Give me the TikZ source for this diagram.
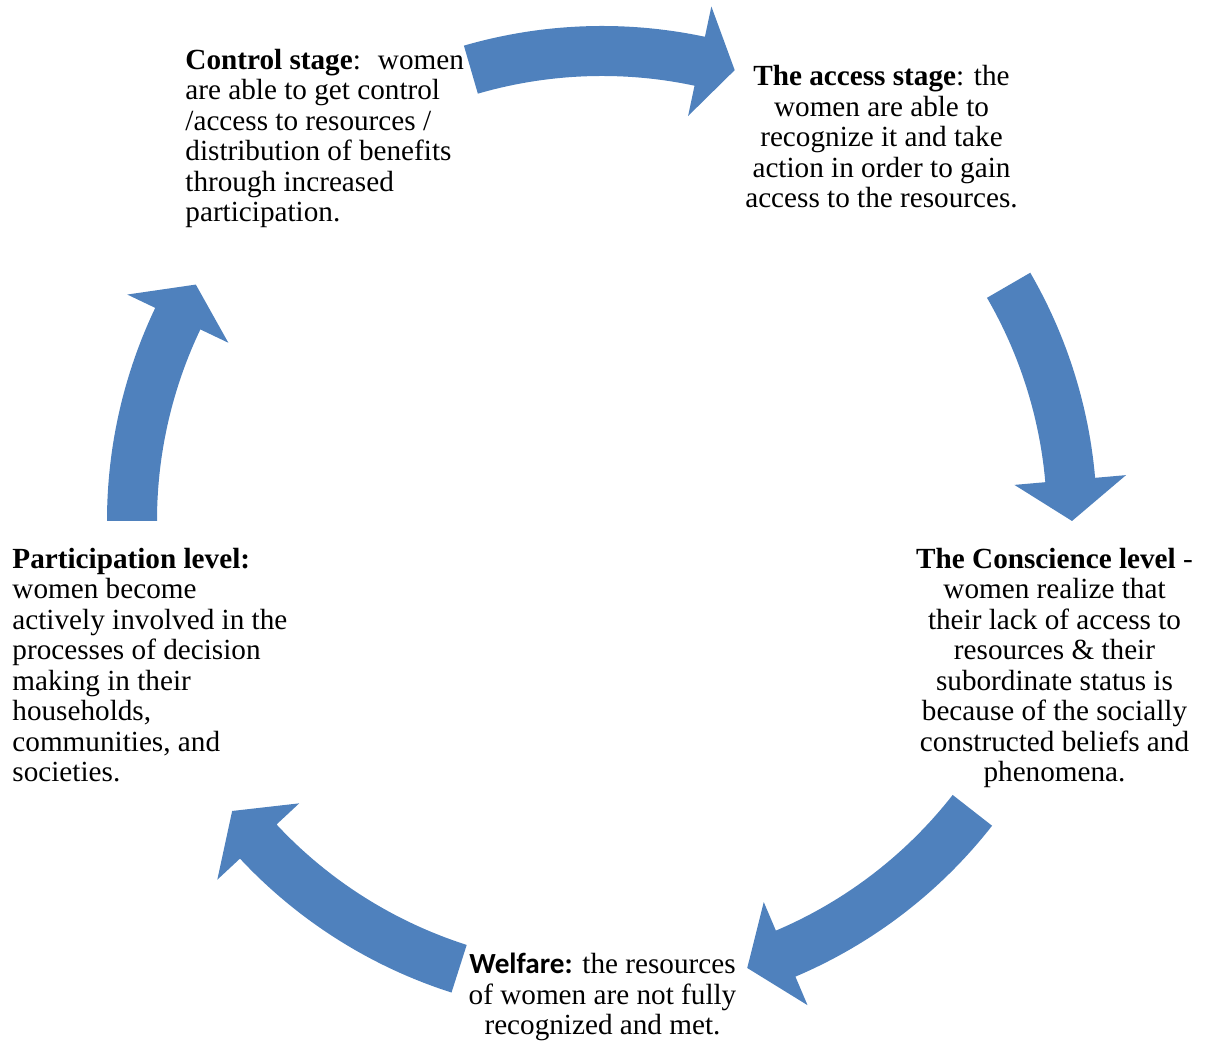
\documentclass[tikz,border=0pt]{standalone}
\usepackage{fontspec}
\setmainfont{Liberation Serif}
\newfontfamily\calibrifont{Carlito}
\usetikzlibrary{calc}

\definecolor{arrowblue}{HTML}{4F81BD}

\tikzset{
  stagetext/.style={inner sep=0pt, font=\fontsize{13.3}{13.9}\selectfont},
  arrowfill/.style={fill=arrowblue},
}

% curved block arrow on the cycle: start angle, head base angle, tip angle
\newcommand{\cyclearrow}[3]{%
  \fill[arrowfill] (#1:495) arc[start angle=#1, end angle=#2, radius=495]
    -- (#2:526) -- (#3:470) -- (#2:414) -- (#2:445)
    arc[start angle=#2, end angle=#1, radius=445] -- cycle;}

\begin{document}
\begin{tikzpicture}[x=0.016cm,y=0.016cm]
	\useasboundingbox (0,0) rectangle (1212,1041);

	% centre of the cycle
	\coordinate (O) at (602,520);

	% arrows
	\begin{scope}[shift={(O)}]
		\cyclearrow{106.2}{78}{73.6}
		\cyclearrow{30.1}{5}{0}
		\cyclearrow{-38}{-67}{-72}
		\cyclearrow{252.3}{223}{218.1}
		\cyclearrow{180}{154.5}{149.8}
	\end{scope}

	% stages texts (base = last line)
	\node[stagetext,anchor=base west,align=left] (control) at (185,819)
		{\textbf{Control stage}:~ women\\are able to get control\\/access to resources /\\distribution of benefits\\through increased\\participation.};
	\node[stagetext,anchor=base,align=center] (access) at (881.5,833)
		{\textbf{The access stage}: the\\women are able to\\recognize it and take\\action in order to gain\\access to the resources.};
	\node[stagetext,anchor=base,align=center] (conscience) at (1054.5,259)
		{\textbf{The Conscience level} -\\women realize that\\their lack of access to\\resources \& their\\subordinate status is\\because of the socially\\constructed beliefs and\\phenomena.};
	\node[stagetext,anchor=base,align=center] (welfare) at (602.5,6)
		{{\calibrifont\bfseries Welfare:} the resources\\of women are not fully\\recognized and met.};
	\node[stagetext,anchor=base west,align=left] (participation) at (12,259)
		{\textbf{Participation level:}\\women become\\actively involved in the\\processes of decision\\making in their\\households,\\communities, and\\societies.};
\end{tikzpicture}
\end{document}
